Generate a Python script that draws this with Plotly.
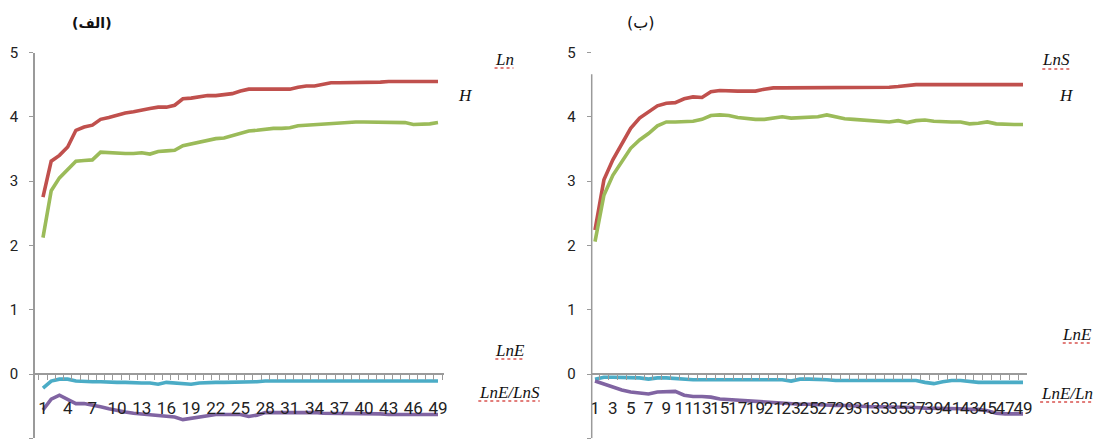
import plotly.graph_objects as go

# ---------------- data ----------------
categories = list(range(1, 50))
left_tick_labels = categories[::3]
right_tick_labels = categories[::2]

left_ln = [2.75, 3.31, 3.40, 3.53, 3.79, 3.84, 3.87, 3.96, 3.99, 4.03,
           4.06, 4.08, 4.11, 4.13, 4.15, 4.15, 4.18, 4.28, 4.29, 4.31,
           4.33, 4.33, 4.34, 4.36, 4.40, 4.43, 4.43, 4.43, 4.43, 4.43,
           4.43, 4.46, 4.48, 4.48, 4.51, 4.53, 4.53, 4.53, 4.53, 4.53,
           4.53, 4.54, 4.55, 4.55, 4.55, 4.55, 4.55, 4.55, 4.55]
left_h = [2.12, 2.85, 3.05, 3.19, 3.31, 3.32, 3.33, 3.45, 3.44, 3.43,
          3.43, 3.43, 3.44, 3.42, 3.46, 3.47, 3.48, 3.55, 3.58, 3.61,
          3.64, 3.66, 3.67, 3.71, 3.75, 3.78, 3.79, 3.81, 3.82, 3.82,
          3.83, 3.86, 3.87, 3.87, 3.89, 3.90, 3.91, 3.92, 3.92, 3.92,
          3.92, 3.92, 3.92, 3.92, 3.91, 3.88, 3.88, 3.89, 3.91]
left_lne = [-0.22, -0.11, -0.08, -0.08, -0.11, -0.12, -0.12, -0.12, -0.13, -0.13,
            -0.13, -0.14, -0.14, -0.14, -0.16, -0.13, -0.14, -0.16, -0.16, -0.14,
            -0.13, -0.13, -0.13, -0.13, -0.13, -0.13, -0.12, -0.11, -0.11, -0.11,
            -0.11, -0.11, -0.11, -0.11, -0.11, -0.11, -0.11, -0.11, -0.11, -0.11,
            -0.11, -0.11, -0.11, -0.11, -0.11, -0.11, -0.11, -0.11, -0.11]
left_ratio = [-0.56, -0.39, -0.33, -0.39, -0.46, -0.46, -0.48, -0.51, -0.54, -0.57,
              -0.59, -0.61, -0.62, -0.63, -0.64, -0.65, -0.67, -0.71, -0.69, -0.67,
              -0.65, -0.63, -0.63, -0.63, -0.63, -0.66, -0.64, -0.60, -0.60, -0.59,
              -0.59, -0.59, -0.60, -0.60, -0.61, -0.61, -0.61, -0.61, -0.61, -0.61,
              -0.61, -0.62, -0.63, -0.63, -0.63, -0.63, -0.63, -0.63, -0.63]

right_lns = [2.24, 3.02, 3.33, 3.59, 3.82, 3.98, 4.08, 4.17, 4.21, 4.22,
             4.28, 4.31, 4.30, 4.39, 4.41, 4.40, 4.40, 4.40, 4.40, 4.43,
             4.45, 4.45, 4.45, 4.45, 4.45, 4.45, 4.45, 4.45, 4.45, 4.45,
             4.45, 4.45, 4.45, 4.46, 4.47, 4.49, 4.50, 4.50, 4.50, 4.50,
             4.50, 4.50, 4.50, 4.50, 4.50, 4.50, 4.50, 4.50, 4.50]
right_h = [2.06, 2.78, 3.09, 3.30, 3.51, 3.64, 3.74, 3.86, 3.92, 3.92,
           3.93, 3.93, 3.96, 4.02, 4.03, 4.02, 3.99, 3.97, 3.96, 3.96,
           3.98, 4.00, 3.98, 3.99, 4.00, 4.00, 4.03, 4.00, 3.97, 3.96,
           3.95, 3.94, 3.93, 3.92, 3.94, 3.91, 3.94, 3.95, 3.93, 3.92,
           3.92, 3.92, 3.89, 3.90, 3.92, 3.89, 3.88, 3.88, 3.88]
right_lne = [-0.08, -0.05, -0.05, -0.05, -0.05, -0.06, -0.08, -0.06, -0.06, -0.07,
             -0.09, -0.09, -0.09, -0.09, -0.09, -0.09, -0.09, -0.09, -0.09, -0.09,
             -0.09, -0.09, -0.11, -0.08, -0.08, -0.08, -0.09, -0.10, -0.10, -0.10,
             -0.10, -0.10, -0.10, -0.10, -0.10, -0.10, -0.10, -0.13, -0.15, -0.12,
             -0.10, -0.10, -0.12, -0.13, -0.13, -0.13, -0.13, -0.13, -0.13]
right_ratio = [-0.11, -0.16, -0.21, -0.25, -0.28, -0.29, -0.31, -0.28, -0.27, -0.27,
               -0.33, -0.35, -0.35, -0.36, -0.39, -0.40, -0.41, -0.42, -0.43, -0.44,
               -0.45, -0.46, -0.46, -0.47, -0.47, -0.48, -0.48, -0.49, -0.49, -0.50,
               -0.50, -0.51, -0.51, -0.51, -0.52, -0.52, -0.52, -0.53, -0.53, -0.53,
               -0.54, -0.54, -0.55, -0.55, -0.57, -0.61, -0.62, -0.62, -0.62]

# ---------------- styling ----------------
W, H = 1097, 446
RED, GREEN, CYAN, PURPLE = "#C0504D", "#9BBB59", "#4BACC6", "#8064A2"
AXIS = "#9a9a9a"
LW = 3.6


def px(x):
    return x / W


def py(y):
    return 1 - y / H


fig = go.Figure()

for xa, ya, series in [
    ("x", "y", [(left_ln, RED), (left_h, GREEN), (left_lne, CYAN), (left_ratio, PURPLE)]),
    ("x2", "y2", [(right_lns, RED), (right_h, GREEN), (right_lne, CYAN), (right_ratio, PURPLE)]),
]:
    for vals, col in series:
        fig.add_trace(go.Scatter(x=categories, y=vals, mode="lines", xaxis=xa, yaxis=ya,
                                 line=dict(color=col, width=LW), showlegend=False,
                                 hoverinfo="skip"))

y_dom = [py(438.3), py(52.5)]
zero_pos = py(374)
tick_font_y = dict(family="Liberation Sans Narrow, Roboto, sans-serif", size=15, color="#222")
tick_font_x = dict(family="Liberation Sans Narrow, Roboto, sans-serif", size=17, color="#222")

common_y = dict(range=[-1, 5], tickmode="array", tickvals=[-1, 0, 1, 2, 3, 4, 5],
                ticks="outside", ticklen=4, tickcolor=AXIS, tickwidth=1,
                showgrid=False, zeroline=False, tickfont=tick_font_y,
                ticklabelstandoff=8, automargin=False, domain=y_dom)
common_x = dict(showgrid=False, zeroline=False, showline=True, linecolor=AXIS, linewidth=1.5,
                ticks="", tickfont=tick_font_x, tickangle=0, ticklabelstandoff=19,
                automargin=False, anchor="free", position=zero_pos,
                minor=dict(ticks="outside", ticklen=5, tickcolor=AXIS, tickwidth=1,
                           tickmode="linear", tick0=0.5, dtick=1, showgrid=False))

fig.update_layout(
    width=W, height=H, template="none",
    paper_bgcolor="white", plot_bgcolor="rgba(0,0,0,0)",
    margin=dict(l=0, r=0, t=0, b=0),
    showlegend=False,
    xaxis=dict(common_x, domain=[px(35), px(444)], range=[0.03, 49.73],
               tickmode="array", tickvals=left_tick_labels,
               ticktext=[str(v) for v in left_tick_labels]),
    yaxis=dict(common_y, anchor="x", showline=True, linecolor=AXIS, linewidth=1.5),
    xaxis2=dict(common_x, domain=[px(591.7), px(1027)], range=[0.63, 49.45],
                tickmode="array", tickvals=right_tick_labels,
                ticktext=[str(v) for v in right_tick_labels]),
    yaxis2=dict(common_y, anchor="x2", showline=False),
)

# right y-axis line (starts a little below the top tick as in the reference)
fig.add_shape(type="line", xref="paper", yref="y2", x0=px(591.7), x1=px(591.7),
              y0=-1, y1=4.66, line=dict(color=AXIS, width=1.5))

# ---------------- text labels ----------------
serif = "Liberation Serif, Times New Roman, serif"
# (text, x, y, underlined, anchor)
labels = [
    ("Ln", 504, 59, True, "center"),
    ("H", 465, 95, False, "center"),
    ("LnE", 510, 350, True, "center"),
    ("LnE/LnS", 509, 392, True, "center"),
    ("LnS", 1056, 60, True, "center"),
    ("H", 1066, 96, False, "center"),
    ("LnE", 1094, 334, True, "right"),
    ("LnE/Ln", 1095, 393, True, "right"),
]
em = {"L": 0.611, "n": 0.5, "S": 0.5, "E": 0.611, "/": 0.278, "H": 0.722}
FS = 17
for text, x, y, ul, anchor in labels:
    fig.add_annotation(x=px(x), y=py(y), xref="paper", yref="paper", text=f"<i>{text}</i>",
                       showarrow=False, xanchor=anchor, yanchor="middle",
                       font=dict(family=serif, size=FS, color="#111"))
    if ul:
        w = sum(em.get(c, 0.5) for c in text) * FS
        if anchor == "center":
            x0, x1 = x - w / 2, x + w / 2
        else:
            x0, x1 = x - w - 2, x - 2
        fig.add_shape(type="line", xref="paper", yref="paper",
                      x0=px(x0), x1=px(x1), y0=py(y + 9), y1=py(y + 9),
                      line=dict(color="#d9534f", width=1.3, dash="dot"))

arabic = "DejaVu Sans, Noto Sans, sans-serif"
fig.add_annotation(x=px(70), y=py(13), xref="paper", yref="paper", text="<b>(الف)</b>",
                   showarrow=False, font=dict(family=arabic, size=14, color="#111"))
fig.add_annotation(x=px(641), y=py(11), xref="paper", yref="paper", text="(ب)",
                   showarrow=False, font=dict(family=arabic, size=16, color="#111"))

fig.write_html("out.html", config={"displayModeBar": False},
               post_script="document.body.style.margin='0px';")
